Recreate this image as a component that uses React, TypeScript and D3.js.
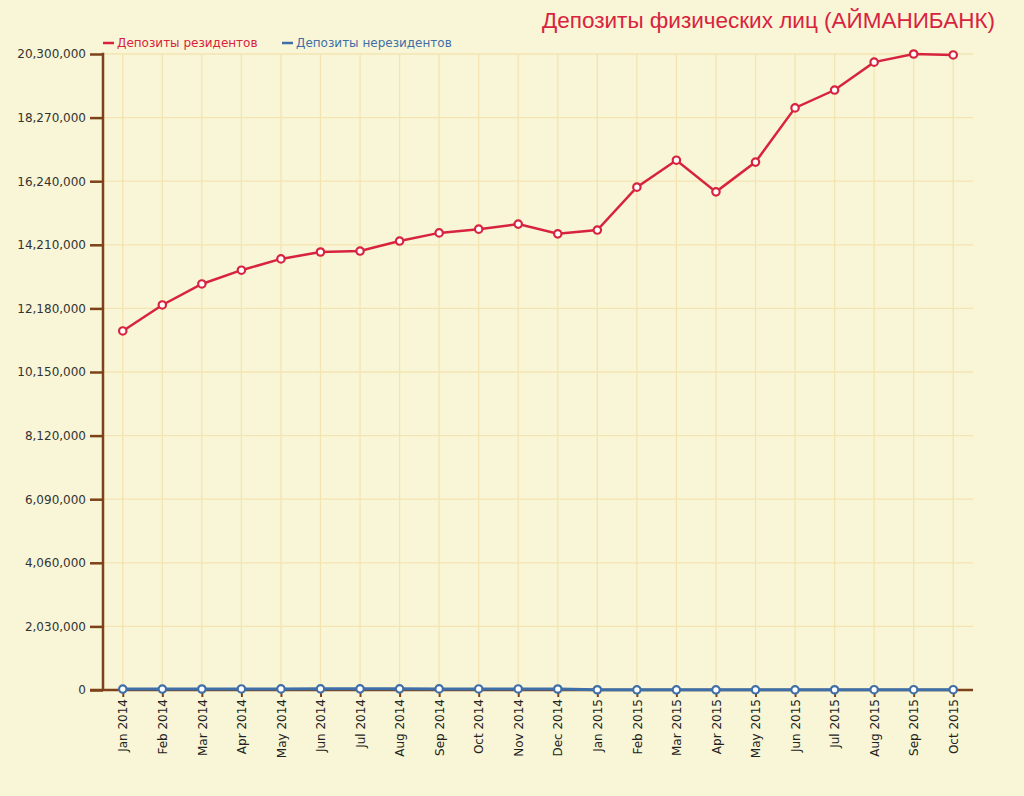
import { useEffect, useRef } from "react";
import * as d3 from "d3";

const MONTHS = [
  "Jan 2014", "Feb 2014", "Mar 2014", "Apr 2014", "May 2014", "Jun 2014",
  "Jul 2014", "Aug 2014", "Sep 2014", "Oct 2014", "Nov 2014", "Dec 2014",
  "Jan 2015", "Feb 2015", "Mar 2015", "Apr 2015", "May 2015", "Jun 2015",
  "Jul 2015", "Aug 2015", "Sep 2015", "Oct 2015",
];

const RESIDENTS = [
  11460000, 12290000, 12960000, 13400000, 13760000, 13980000,
  14010000, 14330000, 14590000, 14710000, 14870000, 14560000,
  14680000, 16050000, 16910000, 15900000, 16850000, 18580000,
  19150000, 20040000, 20300000, 20270000,
];

const NON_RESIDENTS = [
  30000, 30000, 32000, 33000, 35000, 36000,
  37000, 36000, 35000, 33000, 33000, 32000,
  8000, 6000, 5000, 5000, 6000, 7000,
  8000, 9000, 10000, 10000,
];

const Y_TICKS = [
  0, 2030000, 4060000, 6090000, 8120000, 10150000,
  12180000, 14210000, 16240000, 18270000, 20300000,
];

const SERIES_NAMES = ["Депозиты резидентов", "Депозиты нерезидентов"];
const TITLE = "Депозиты физических лиц (АЙМАНИБАНК)";

const W = 1024;
const H = 796;
const BG = "#f8f6d6";
const GRID = "#f4e4b2";
const AXIS = "#7d4219";
const RED = "#d8233f";
const BLUE = "#3f6fa8";
const FONT = "DejaVu Sans, Verdana, sans-serif";

export default function App() {
  const svgRef = useRef<SVGSVGElement>(null);

  useEffect(() => {
    const svgEl = svgRef.current;
    if (!svgEl) return;
    const svg = d3.select(svgEl);
    svg.selectAll("*").remove();

    const margin = { top: 54, right: 51, bottom: 106, left: 103 };
    const innerW = W - margin.left - margin.right;
    const innerH = H - margin.top - margin.bottom;

    svg.append("rect").attr("width", W).attr("height", H).attr("fill", BG);

    const x = d3.scalePoint<string>().domain(MONTHS).range([0, innerW]).padding(0.5);
    const y = d3.scaleLinear().domain([0, 20300000]).range([innerH, 0]);

    const g = svg.append("g").attr("transform", `translate(${margin.left},${margin.top})`);

    // grid
    g.append("g")
      .selectAll("line.h")
      .data(Y_TICKS.slice(1))
      .join("line")
      .attr("x1", 0)
      .attr("x2", innerW)
      .attr("y1", (d) => y(d))
      .attr("y2", (d) => y(d))
      .attr("stroke", GRID)
      .attr("stroke-width", 1.3);

    g.append("g")
      .selectAll("line.v")
      .data(MONTHS)
      .join("line")
      .attr("x1", (d) => x(d)!)
      .attr("x2", (d) => x(d)!)
      .attr("y1", 0)
      .attr("y2", innerH)
      .attr("stroke", GRID)
      .attr("stroke-width", 1.3);

    // y axis
    const yAxis = g.append("g")
      .call(
        d3.axisLeft(y)
          .tickValues(Y_TICKS)
          .tickSize(13)
          .tickPadding(4)
          .tickFormat((d) => d3.format(",")(d as number))
      );
    yAxis.select(".domain").remove();
    yAxis.selectAll(".tick line").attr("stroke", AXIS).attr("stroke-width", 2.5);
    yAxis.selectAll("text")
      .attr("font-family", FONT)
      .attr("font-size", 12)
      .attr("fill", "#333");
    g.append("line")
      .attr("x1", 0).attr("x2", 0)
      .attr("y1", -1.2).attr("y2", innerH)
      .attr("stroke", AXIS).attr("stroke-width", 2.5);

    // x axis
    const xAxis = g.append("g")
      .attr("transform", `translate(0,${innerH})`)
      .call(d3.axisBottom(x).tickSize(7).tickPadding(5));
    xAxis.select(".domain").remove();
    xAxis.selectAll(".tick line").attr("stroke", AXIS).attr("stroke-width", 2);
    xAxis.selectAll<SVGTextElement, string>("text")
      .attr("font-family", FONT)
      .attr("font-size", 12)
      .attr("fill", "#222")
      .attr("transform", "rotate(-90)")
      .attr("x", -9)
      .attr("y", 0)
      .attr("dy", "0.35em")
      .style("text-anchor", "end");
    g.append("line")
      .attr("x1", -13).attr("x2", innerW)
      .attr("y1", innerH).attr("y2", innerH)
      .attr("stroke", AXIS).attr("stroke-width", 2.5);

    // series
    const line = d3.line<number>()
      .x((_, i) => x(MONTHS[i])!)
      .y((d) => y(d));

    const drawSeries = (values: number[], color: string, width: number) => {
      g.append("path")
        .datum(values)
        .attr("d", line)
        .attr("fill", "none")
        .attr("stroke", color)
        .attr("stroke-width", width);
      g.append("g")
        .selectAll("circle")
        .data(values)
        .join("circle")
        .attr("cx", (_, i) => x(MONTHS[i])!)
        .attr("cy", (d) => y(d))
        .attr("r", 3.7)
        .attr("fill", "#fff")
        .attr("stroke", color)
        .attr("stroke-width", 2.2);
    };
    drawSeries(RESIDENTS, RED, 2.5);
    drawSeries(NON_RESIDENTS, BLUE, 3);

    // legend
    const legendX = [103, 282];
    const legendColors = [RED, BLUE];
    SERIES_NAMES.forEach((name, i) => {
      const lg = svg.append("g").attr("transform", `translate(${legendX[i]},43)`);
      lg.append("line")
        .attr("x1", 0).attr("x2", 11)
        .attr("y1", 0).attr("y2", 0)
        .attr("stroke", legendColors[i]).attr("stroke-width", 2.5);
      lg.append("text")
        .attr("x", 14)
        .attr("y", 4)
        .attr("font-family", FONT)
        .attr("font-size", 12)
        .attr("fill", legendColors[i])
        .text(name);
    });

    // title
    svg.append("text")
      .attr("x", 995)
      .attr("y", 28)
      .attr("text-anchor", "end")
      .attr("font-family", "Liberation Sans, Arial, sans-serif")
      .attr("font-size", 22.5)
      .attr("fill", RED)
      .text(TITLE);
  }, []);

  return (
    <div>
      <style>{"body{margin:0}"}</style>
      <svg ref={svgRef} width={W} height={H} style={{ display: "block" }} />
    </div>
  );
}
